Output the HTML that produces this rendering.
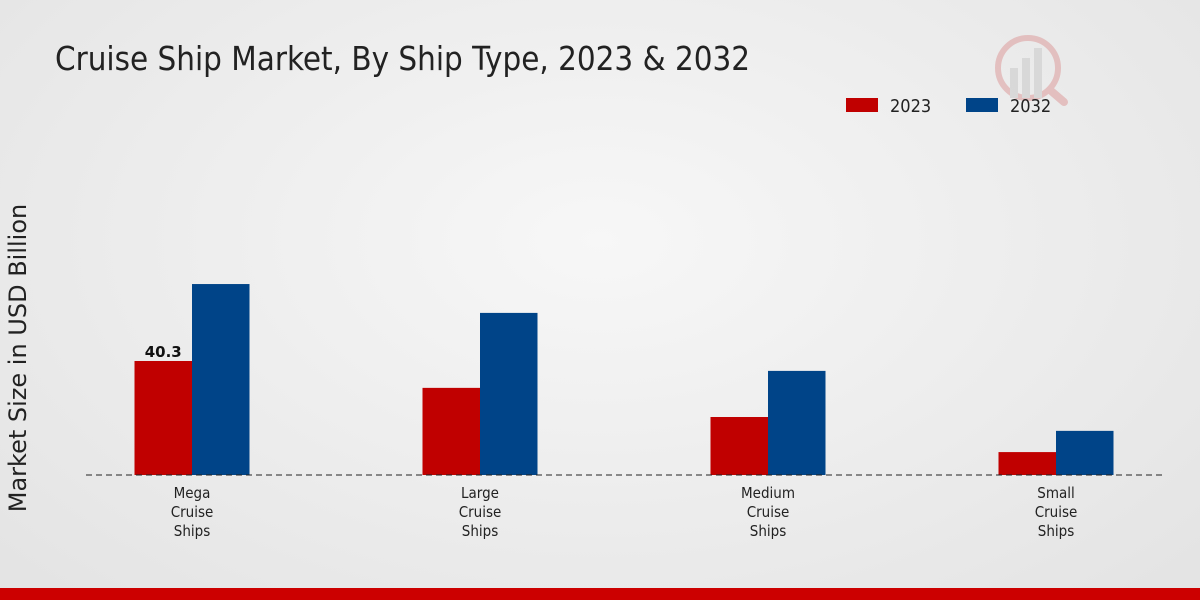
<!DOCTYPE html>
<html><head><meta charset="utf-8"><style>
body{margin:0;width:1200px;height:600px;overflow:hidden;font-family:"Liberation Sans","DejaVu Sans",sans-serif;}
#bg{position:absolute;left:0;top:0;width:1200px;height:600px;background:radial-gradient(ellipse at 50% 40%,#f7f7f7 0%,#e9e9e9 70%,#e3e3e3 100%);}
</style></head><body>
<div id="bg"></div>
<svg id="chart" width="1200" height="600" style="position:absolute;left:0;top:0">
<g opacity="0.18">
<circle cx="1028" cy="68" r="30" fill="none" stroke="#c00000" stroke-width="6"/>
<rect x="1010" y="68" width="8" height="30" fill="#888"/><rect x="1022" y="58" width="8" height="40" fill="#888"/><rect x="1034" y="48" width="8" height="50" fill="#888"/>
<line x1="1050" y1="90" x2="1064" y2="102" stroke="#c00000" stroke-width="8" stroke-linecap="round"/>
</g>
<text x="55" y="70" font-size="32.8" fill="#222" font-family="DejaVu Sans Condensed, DejaVu Sans, sans-serif">Cruise Ship Market, By Ship Type, 2023 &amp; 2032</text>
<text transform="translate(26,358) rotate(-90)" text-anchor="middle" font-size="24" fill="#222" font-family="DejaVu Sans, sans-serif">Market Size in USD Billion</text>
<rect x="846" y="98" width="32" height="14" fill="#c00000"/>
<text x="890" y="112" font-size="18" fill="#222" font-family="DejaVu Sans Condensed, DejaVu Sans, sans-serif">2023</text>
<rect x="966" y="98" width="32" height="14" fill="#004488"/>
<text x="1010" y="112" font-size="18" fill="#222" font-family="DejaVu Sans Condensed, DejaVu Sans, sans-serif">2032</text>
<g id="bars"></g>
<line x1="86" y1="475" x2="1164" y2="475" stroke="#222" stroke-dasharray="6,4"/>
<rect x="0" y="588" width="1200" height="12" fill="#cc0000"/>
</svg>
<script>
const categories=[["Mega","Cruise","Ships"],["Large","Cruise","Ships"],["Medium","Cruise","Ships"],["Small","Cruise","Ships"]];
const values2023=[40.3,30.8,20.5,8.1];
const values2032=[67.5,57.3,36.8,15.6];
const labels2023=["40.3","","",""];
const NS="http://www.w3.org/2000/svg";
const g=document.getElementById('bars');
const base=475,scale=2.829,x0=192,step=288,bw=57.5;
function y(v){return base-v*scale;}
function xc(i){return x0+i*step;}
function mk(t,a){const e=document.createElementNS(NS,t);for(const k in a)e.setAttribute(k,a[k]);g.appendChild(e);return e;}
categories.forEach((c,i)=>{
 let r=mk('rect',{x:xc(i)-bw,y:y(values2023[i]),width:bw,height:values2023[i]*scale,fill:'#c00000'});
 
 
 let b=mk('rect',{x:xc(i),y:y(values2032[i]),width:bw,height:values2032[i]*scale,fill:'#004488'});
 
 
 if(labels2023[i]){let t=mk('text',{x:xc(i)-bw/2,y:y(values2023[i])-4,'text-anchor':'middle','font-size':15,'font-weight':'bold',fill:'#111','font-family':'DejaVu Sans, sans-serif'});t.textContent=labels2023[i];
 
 }
 c.forEach((w,j)=>{let t=mk('text',{x:xc(i),y:498+j*19,'text-anchor':'middle','font-size':15,fill:'#222','font-family':'DejaVu Sans Condensed, DejaVu Sans, sans-serif'});t.textContent=w;
 
 });
});
</script>
</body></html>
